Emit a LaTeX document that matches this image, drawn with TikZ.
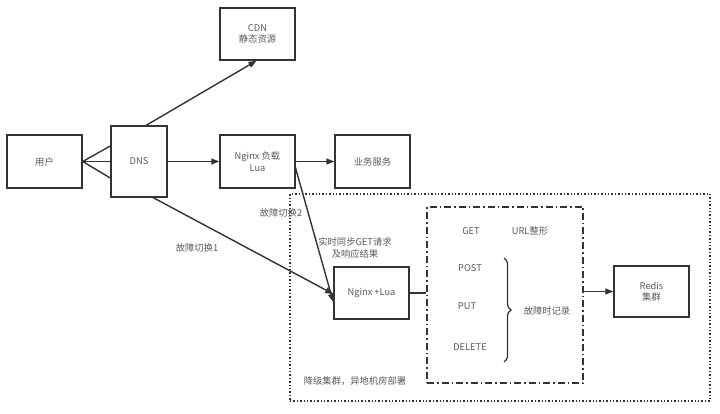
\documentclass[tikz,border=0pt]{standalone}
\usepackage{fontspec}
\setmainfont{Noto Sans CJK SC}
\usetikzlibrary{arrows.meta,decorations.pathreplacing}
\definecolor{ink}{HTML}{333333}
\definecolor{txt}{HTML}{5A5A5A}
\begin{document}
\begin{tikzpicture}[x=1pt,y=-1pt,
  box/.style={draw=ink,line width=1.5pt,fill=white,align=center,text=txt,font=\fontsize{9.3}{11.5}\selectfont,inner sep=0pt},
  lbl/.style={text=txt,font=\fontsize{9.3}{11.5}\selectfont,align=center,inner sep=0pt},
  conn/.style={draw=ink,line width=1.4pt},
  arr/.style={conn,-{Triangle[length=8pt,width=6pt]}}]
\useasboundingbox[fill=white] (0,0) rectangle (720,414);
% containers
\node[draw=ink,line width=1.4pt,dotted,minimum width=420pt,minimum height=207pt,inner sep=0pt] (outer) at (500,297.5) {};
\node[draw=ink,line width=1.4pt,dash pattern=on 7pt off 3pt on 1.5pt off 3pt,minimum width=156pt,minimum height=176pt,inner sep=0pt] (dd) at (505,295) {};
% boxes
\node[box,minimum width=75pt,minimum height=53pt] (user) at (44.5,161.5) {用户};
\node[box,minimum width=56pt,minimum height=71pt] (dns) at (139,161.5) {DNS};
\node[box,minimum width=75pt,minimum height=52pt] (cdn) at (257.5,34) {CDN\\静态资源};
\node[box,minimum width=75pt,minimum height=53pt] (ngx) at (257.5,161.5) {Nginx 负载\\Lua};
\node[box,minimum width=75pt,minimum height=53pt] (biz) at (372.5,161.5) {业务服务};
\node[box,minimum width=75pt,minimum height=52pt] (ngl) at (371.5,293) {Nginx +Lua};
\node[box,minimum width=75pt,minimum height=51pt] (redis) at (651.5,291.5) {Redis\\集群};
% connector anchors
\coordinate (u1) at ([yshift=-16.5pt]dns.west);
\coordinate (u3) at ([yshift=15.5pt]dns.west);
\coordinate (dnstop) at (145,126);
\coordinate (dnsbot) at (152,197);
\coordinate (ngxr) at (295,166);
% connectors
\draw[conn] (user.east) -- (u1);
\draw[conn] (user.east) -- (dns.west);
\draw[conn] (user.east) -- (u3);
\draw[arr] (dnstop) -- ([xshift=-1pt]cdn.south);
\draw[arr] (dns.east) -- (ngx.west);
\draw[arr] (ngx.east) -- (biz.west);
\draw[arr] (dnsbot) -- ([yshift=-1pt]ngl.west);
\draw[arr] (ngxr) -- ([yshift=-9pt]ngl.west);
\draw[conn] (ngl.east) -- (ngl.east -| dd.west);
\draw[arr] (dd.east |- redis.west) -- (redis.west);
% labels
\node[lbl] (l1) at (197,248) {故障切换1};
\node[lbl] (l2) at (281,213) {故障切换2};
\node[lbl] (l3) at (355,248) {实时同步GET请求\\及响应结果};
\node[lbl] (l4) at (355,381) {降级集群，异地机房部署};
\node[lbl] (get) at (471,231) {GET};
\node[lbl] (url) at (530,231) {URL整形};
\node[lbl] (post) at (470,268) {POST};
\node[lbl] (put) at (467,306) {PUT};
\node[lbl] (del) at (470,347) {DELETE};
\node[lbl] (rec) at (547,311) {故障时记录};
\coordinate (b1) at (504,258);
\coordinate (b2) at (504,362);
\draw[ink,line width=1.2pt,decorate,decoration={brace,amplitude=7pt}] (b1) -- (b2);
\end{tikzpicture}
\end{document}
